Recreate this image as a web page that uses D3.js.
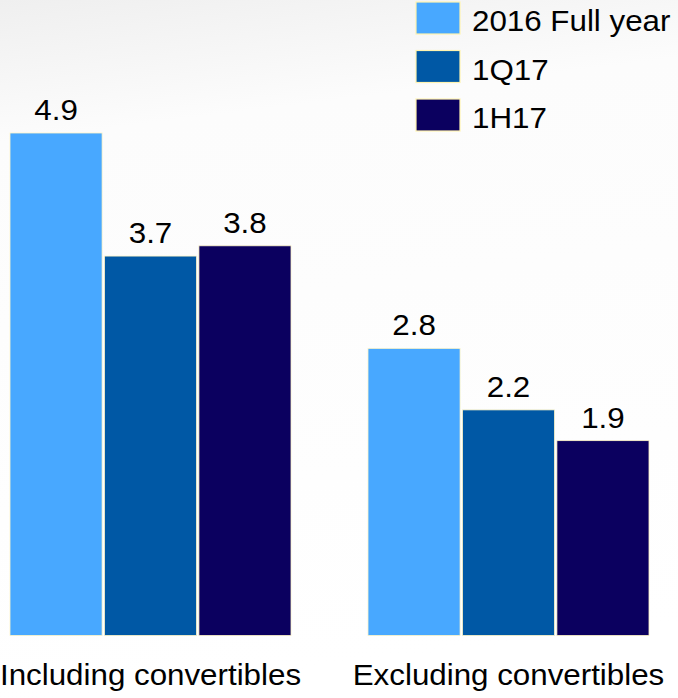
<!DOCTYPE html>
<html>
<head>
<meta charset="utf-8">
<script src="https://cdn.jsdelivr.net/npm/d3@7/dist/d3.min.js"></script>
<style>
  html, body { margin: 0; padding: 0; background: #fff; }
  svg { display: block; }
  text { font-family: "Liberation Sans", Arial, sans-serif; fill: #000; }
</style>
</head>
<body>
<svg id="chart" width="678" height="698"></svg>
<script>
// Categories, series and values
const categories = ["Including convertibles", "Excluding convertibles"];
const seriesNames = ["2016 Full year", "1Q17", "1H17"];
const values2016 = [4.9, 2.8];
const values1Q17 = [3.7, 2.2];
const values1H17 = [3.8, 1.9];
const seriesColors = ["#48a8ff", "#0058a5", "#0b005f"];

const seriesValues = [values2016, values1Q17, values1H17];
const rows = categories.map((c, i) => ({
  category: c,
  bars: seriesNames.map((s, j) => ({ series: s, value: seriesValues[j][i] }))
}));

const W = 678, H = 698;
const svg = d3.select("#chart");
const fontSize = 29, stretch = 1.08;

// soft grey wash fading from the top edge
const defs = svg.append("defs");
const grad = defs.append("linearGradient")
  .attr("id", "bg").attr("x1", 0).attr("y1", 0).attr("x2", 0.12).attr("y2", 1);
grad.append("stop").attr("offset", "0").attr("stop-color", "#efefef");
grad.append("stop").attr("offset", "0.2").attr("stop-color", "#fcfcfc");
grad.append("stop").attr("offset", "1").attr("stop-color", "#ffffff");
svg.append("rect").attr("width", W).attr("height", H).attr("fill", "url(#bg)");

const x0 = d3.scaleBand().domain(categories).range([10, 649]).paddingInner(0.215).paddingOuter(0);
const x1 = d3.scaleBand().domain(seriesNames).range([0, x0.bandwidth()]).paddingInner(0.025);
const y = d3.scaleLinear().domain([0, 4.9]).range([635.5, 133]);
const color = d3.scaleOrdinal().domain(seriesNames).range(seriesColors);

const groups = svg.append("g").selectAll("g")
  .data(rows).join("g")
  .attr("transform", d => `translate(${x0(d.category)},0)`);

groups.selectAll("rect")
  .data(d => d.bars).join("rect")
  .attr("x", d => x1(d.series))
  .attr("y", d => y(d.value))
  .attr("width", x1.bandwidth())
  .attr("height", d => y(0) - y(d.value))
  .attr("fill", d => color(d.series))
  .attr("stroke", "#fff6c8")
  .attr("stroke-width", 0.8);

// value labels above each bar
groups.selectAll("text.val")
  .data(d => d.bars).join("text")
  .attr("class", "val")
  .attr("transform", d => `translate(${x1(d.series) + x1.bandwidth() / 2},${y(d.value) - 13}) scale(${stretch},1)`)
  .attr("text-anchor", "middle")
  .style("font-size", fontSize + "px")
  .text(d => d.value.toFixed(1));

// category labels beneath the groups
svg.append("g").selectAll("text")
  .data(categories).join("text")
  .attr("transform", d => `translate(${x0(d) + x0.bandwidth() / 2},685) scale(${stretch},1)`)
  .attr("text-anchor", "middle")
  .style("font-size", fontSize + "px")
  .text(d => d);

// legend
const legend = svg.append("g").attr("transform", "translate(416,2)");
const item = legend.selectAll("g").data(seriesNames).join("g")
  .attr("transform", (d, i) => `translate(0,${i * 48.5})`);
item.append("rect")
  .attr("width", 44).attr("height", 32)
  .attr("fill", d => color(d))
  .attr("stroke", "#fff3b0").attr("stroke-width", 1.2);
item.append("text")
  .attr("transform", `translate(56,29) scale(${stretch},1)`)
  .style("font-size", fontSize + "px")
  .text(d => d);
</script>
</body>
</html>
